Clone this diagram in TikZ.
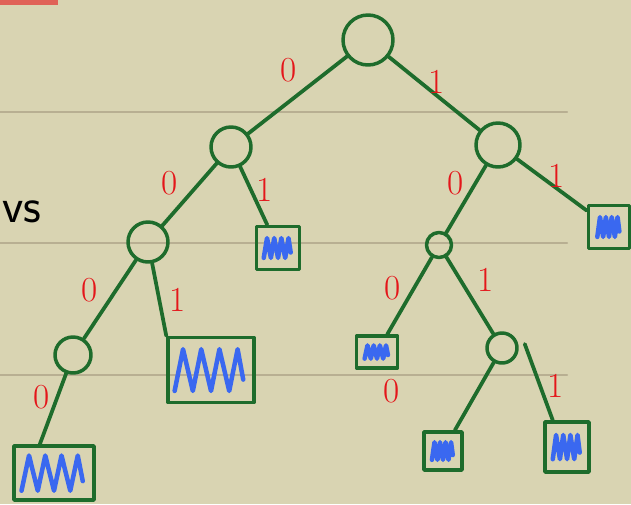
\documentclass[tikz,border=0pt]{standalone}
\usetikzlibrary{calc}

\definecolor{paper}{RGB}{217,212,178}
\definecolor{rule}{RGB}{184,175,146}
\definecolor{pen}{RGB}{30,108,44}
\definecolor{bitred}{RGB}{228,22,26}
\definecolor{ink}{RGB}{58,104,240}

\begin{document}
\begin{tikzpicture}[x=0.02cm, y=-0.02cm, line join=round, line cap=round]
    % Style definitions
    \tikzset{inner/.style={draw=pen, line width=0.07cm, circle, inner sep=0pt}}
    \tikzset{leaf/.style={draw=pen, line width=0.07cm, rectangle, inner sep=0pt}}
    \tikzset{branch/.style={draw=pen, line width=0.075cm}}
    \tikzset{bit/.style={text=bitred, font=\fontsize{20}{24}\selectfont}}
    \tikzset{scrib/.style={draw=ink, line width=0.09cm}}

    % Paper and ruled lines
    \fill[paper] (0,0) rectangle (631,504);
    \useasboundingbox (0,0) rectangle (631,504);
    \foreach \y in {112,243,375}
        \draw[rule, line width=0.04cm] (0,\y) -- (567,\y);
    \fill[bitred!60!paper] (0,0) rectangle (58,5);
    \node[font=\fontsize{28}{30}\selectfont\sffamily] (vs) at (22,212) {vs};

    % Inner nodes
    \node [inner, minimum size=1.0cm]  (root) at (368,40) {};
    \node [inner, minimum size=0.8cm]  (na) at (231,147) {};
    \node [inner, minimum size=0.88cm] (nb) at (498,145) {};
    \node [inner, minimum size=0.8cm]  (nc) at (148,242) {};
    \node [inner, minimum size=0.72cm] (nd) at (73,355) {};
    \node [inner, minimum size=0.5cm]  (ne) at (439,245) {};
    \node [inner, minimum size=0.6cm]  (nf) at (502,348) {};

    % Leaves
    \node [leaf, minimum width=0.86cm, minimum height=0.86cm] (la) at (278,248) {};
    \node [leaf, minimum width=1.72cm, minimum height=1.3cm]  (lc) at (211,370) {};
    \node [leaf, minimum width=1.6cm, minimum height=1.08cm]  (ld) at (54,473) {};
    \node [leaf, minimum width=0.82cm, minimum height=0.86cm] (lb) at (609,227) {};
    \node [leaf, minimum width=0.82cm, minimum height=0.64cm] (le) at (377,352) {};
    \node [leaf, minimum width=0.76cm, minimum height=0.76cm] (lg) at (443,451) {};
    \node [leaf, minimum width=0.88cm, minimum height=1.0cm]  (lf) at (567,447) {};

    % Scribbles in the leaves
    \foreach \l/\sx/\sy in {la/1.1/0.9, lc/2.8/1.9, ld/2.5/1.6, lb/0.9/0.9,
                            le/0.95/0.6, lg/0.85/0.8, lf/1.1/1.1}
        \draw[scrib, xscale=\sx, yscale=\sy] (\l.center) ++(-13,11)
            -- ++(3,-22) -- ++(3.5,22) -- ++(3,-22) -- ++(3.5,22)
            -- ++(3,-22) -- ++(3.5,22) -- ++(3,-22) -- ++(2,16);

    % Branches
    \draw [branch] (root) -- (na);
    \draw [branch] (root) -- (nb);
    \draw [branch] (na) -- (nc);
    \draw [branch] (na) -- (la);
    \draw [branch] (nc) -- (nd);
    \draw [branch] (nc) -- (lc.north west);
    \draw [branch] (nd) -- ($(ld.north west)!0.33!(ld.north east)$);
    \draw [branch] (nb) -- (lb);
    \draw [branch] (nb) -- (ne);
    \draw [branch] (ne) -- (le);
    \draw [branch] (ne) -- (nf);
    \draw [branch] (nf) -- (lg);
    \draw [branch] ($(nf.east)+(6,-4)$) -- ($(lf.north west)!0.2!(lf.north east)$);

    % Bits
    \node [bit] (b1) at (289,70) {0};
    \node [bit] (b2) at (437,82) {1};
    \node [bit] (b3) at (170,183) {0};
    \node [bit] (b4) at (265,190) {1};
    \node [bit] (b5) at (90,290) {0};
    \node [bit] (b6) at (178,300) {1};
    \node [bit] (b7) at (42,397) {0};
    \node [bit] (b8) at (456,183) {0};
    \node [bit] (b9) at (557,176) {1};
    \node [bit] (b10) at (393,288) {0};
    \node [bit] (b11) at (486,280) {1};
    \node [bit] (b12) at (392,391) {0};
    \node [bit] (b13) at (556,386) {1};
\end{tikzpicture}
\end{document}
